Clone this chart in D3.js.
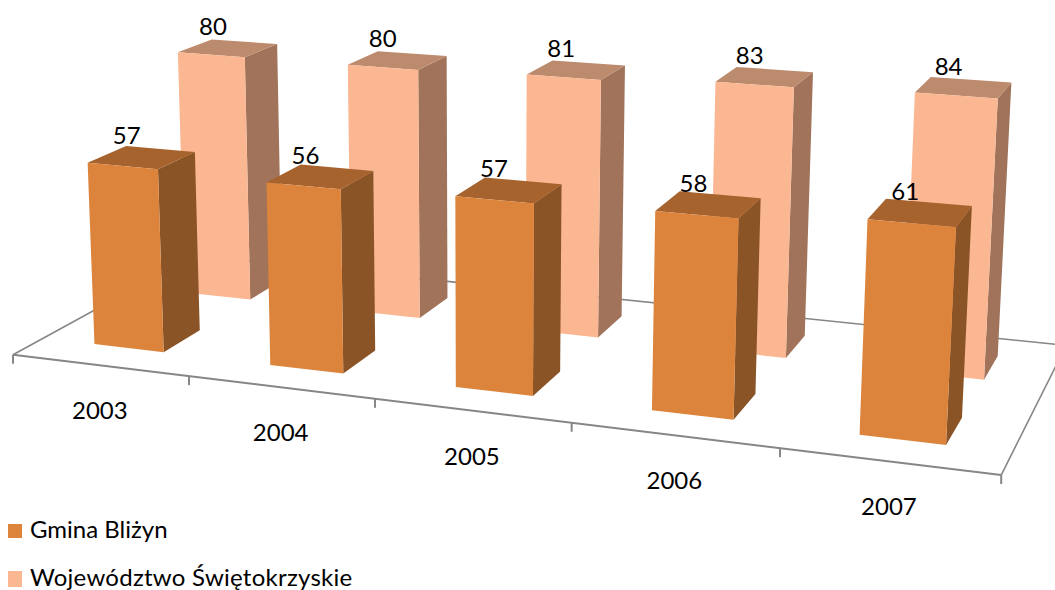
<!DOCTYPE html><html><head><meta charset="utf-8"><style>html,body{margin:0;background:#fff;overflow:hidden}svg{display:block}text{font-family:Lato,'Open Sans',sans-serif;fill:#000}</style></head><body><script src="https://cdn.jsdelivr.net/npm/d3@7"></script><script>
const years = ["2003","2004","2005","2006","2007"];
const seriesNames = ["Gmina Bliżyn","Województwo Świętokrzyskie"];
const gminaValues = [57,56,57,58,61];
const wojewodztwoValues = [80,80,81,83,84];

const W=1055,H=590;
const svg=d3.select("body").append("svg").attr("width",W).attr("height",H);

// scales into the chart's 3D world (category along, series in depth, value up)
const uScale=d3.scaleBand().domain(years).range([0,5]).paddingInner(0.6).paddingOuter(0.3);
const dScale=d3.scaleBand().domain(seriesNames).range([0,1]).paddingInner(0.6).paddingOuter(0.3);
const hScale=d3.scaleLinear().domain([0,50]).range([0,1]);
// camera matrix (fitted to the picture)
const cam=[171.014702,209.675193,-7.413499,12.995122,11.433347,-62.717414,-163.638201,354.720859,-0.026595,0.143844,-0.015363];
function project(u,d,h){const w=cam[8]*u+cam[9]*d+cam[10]*h+1;
  return [(cam[0]*u+cam[1]*d+cam[2]*h+cam[3])/w,(cam[4]*u+cam[5]*d+cam[6]*h+cam[7])/w];}
const poly=d3.line();
const closed=pts=>poly(pts)+"Z";

// floor
const AXIS="#868686";
const floor=svg.append("g").attr("fill","none").attr("stroke",AXIS);
floor.append("path").attr("stroke-width",1.6).attr("d",poly([project(0,0,0),project(0,1,0),project(5,1,0),project(5,0,0)]));
floor.append("path").attr("stroke-width",2).attr("d",poly([project(0,0,0),project(5,0,0)]));
d3.range(0,6).forEach(i=>{const p=project(i,0,0);
  floor.append("line").attr("x1",p[0]).attr("x2",p[0]).attr("y1",p[1]).attr("y2",p[1]+9).attr("stroke-width",2);});

const series=[
 {name:seriesNames[1],values:wojewodztwoValues,front:"#FBB692",side:"#A0735A",top:"#BC8A6D"},
 {name:seriesNames[0],values:gminaValues,front:"#DC843B",side:"#8B5426",top:"#A7632E"}];

series.forEach(s=>{
  const g=svg.append("g");
  s.values.forEach((v,i)=>{
    const u0=uScale(years[i]),u1=u0+uScale.bandwidth();
    const d0=dScale(s.name),d1=d0+dScale.bandwidth();
    const h=hScale(v);
    g.append("path").attr("fill",s.side).attr("d",closed([project(u1,d0,0),project(u1,d1,0),project(u1,d1,h),project(u1,d0,h)]));
    g.append("path").attr("fill",s.top).attr("d",closed([project(u0,d0,h),project(u1,d0,h),project(u1,d1,h),project(u0,d1,h)]));
    g.append("path").attr("fill",s.front).attr("d",closed([project(u0,d0,0),project(u1,d0,0),project(u1,d0,h),project(u0,d0,h)]));
  });
});
// value labels on top of everything
series.forEach(s=>{
  s.values.forEach((v,i)=>{
    const u=uScale(years[i])+uScale.bandwidth()/2,d=dScale(s.name)+dScale.bandwidth()/2;
    const p=project(u,d,hScale(v));
    svg.append("text").attr("x",p[0]-15).attr("y",p[1]-13).attr("text-anchor","middle").attr("font-size",24).text(v);
  });
});
// category labels
years.forEach((y,i)=>{
  const p=project(i+.5,0,0);
  svg.append("text").attr("x",p[0]).attr("y",p[1]+54).attr("text-anchor","middle").attr("font-size",24).text(y);
});
// legend
const legendY=d3.scalePoint().domain(seriesNames).range([538,586]);
const legendFill=d3.scaleOrdinal().domain(seriesNames).range(["#DC843B","#FBB692"]);
seriesNames.forEach((n,i)=>{
  svg.append("rect").attr("x",8).attr("y",[524,571][i]).attr("width",14).attr("height",i?16:14).attr("fill",legendFill(n));
  svg.append("text").attr("x",30).attr("y",legendY(n)).attr("font-size",24).attr("letter-spacing",i?0.25:0).text(n);
});
</script></body></html>
